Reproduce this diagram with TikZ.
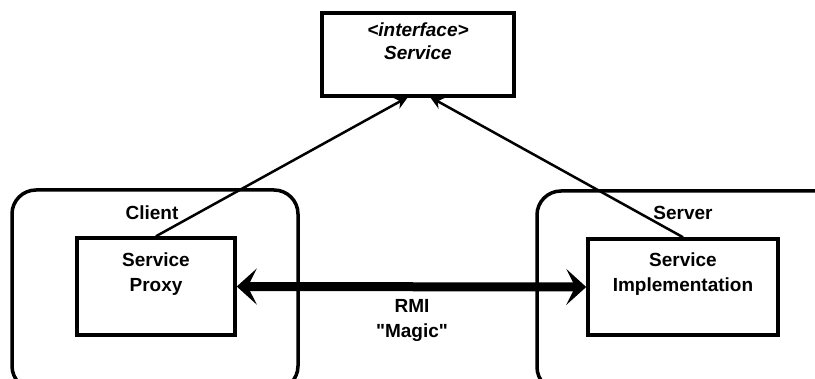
\documentclass[tikz,border=0pt]{standalone}
\usepackage{fontspec}
\setmainfont{Liberation Sans}
\usetikzlibrary{arrows.meta}
\newcommand\straightquote{\XeTeXglyph\XeTeXcharglyph"22\relax}
\begin{document}
\begin{tikzpicture}[x=1pt,y=-1pt,
  box/.style={draw, line width=3.5pt, rectangle, inner sep=0pt},
  rbox/.style={draw, line width=3.5pt, rectangle, rounded corners=24pt, inner sep=0pt},
  lbl/.style={font=\fontsize{19}{25}\selectfont\bfseries, align=center, inner sep=0pt},
  conn/.style={line width=2.5pt, -{Stealth[length=13pt,width=12pt]}},
  rmiarrow/.style={line width=9pt, {Stealth[length=20pt,width=36pt,inset=9pt]}-{Stealth[length=20pt,width=36pt,inset=9pt]}}]
\useasboundingbox (0,0) rectangle (815,379);
\clip (0,0) rectangle (815,379);
% containers
\node[rbox, minimum width=286pt, minimum height=200pt] (client) at (155,290) {};
\node[rbox, minimum width=308pt, minimum height=200pt] (server) at (691,291) {};
\node[lbl] (clientlbl) at (152,213) {Client};
\node[lbl] (serverlbl) at (683,213) {Server};
% interface
\node[box, minimum width=192pt, minimum height=83pt] (iface) at (418,54.5) {};
\node[lbl, font=\fontsize{19}{23}\selectfont\bfseries\itshape] (ifacelbl) at (418,41.5) {<interface>\\Service};
% inner boxes
\node[box, minimum width=158pt, minimum height=97pt] (proxy) at (156,286.5) {};
\node[lbl] (proxylbl) at (156,274.5) {Service\\Proxy};
\node[box, minimum width=190pt, minimum height=96pt] (impl) at (683,287) {};
\node[lbl] (impllbl) at (683,274) {Service\\Implementation};
% connectors
\coordinate (ia) at (408,97);
\coordinate (ib) at (430,97);
\draw[conn] (proxy.north) -- (ia);
\draw[conn] (impl.north) -- (ib);
\draw[rmiarrow] (proxy.east) -- (impl.west);
\node[lbl] (rmi) at (412,320) {RMI\\\straightquote Magic\straightquote};
\end{tikzpicture}
\end{document}
